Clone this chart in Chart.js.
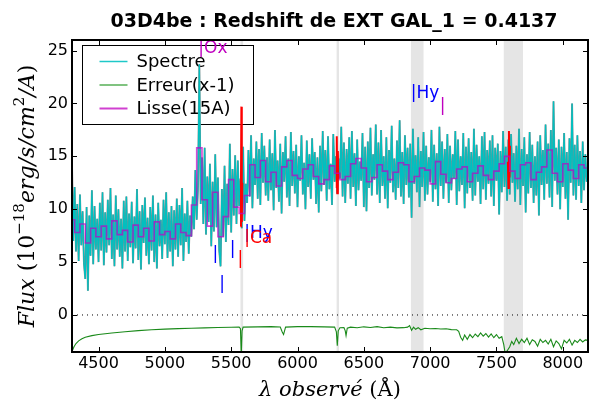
<!DOCTYPE html>
<html lang="fr">
<head>
<meta charset="UTF-8">
<title>03D4be : Redshift de EXT GAL_1</title>
<script src="https://cdn.jsdelivr.net/npm/chart.js"></script>
<style>
  body { margin: 0; background: #fff; }
  #wrap { width: 600px; height: 400px; }
</style>
</head>
<body>
<div id="wrap"><canvas id="spec" width="600" height="400"></canvas></div>
<script>
// spectre observe, un point tous les 10 A a partir de 4300 A
const specStart = 4300;
const specStep = 10;
const specFlux = [
  14.2, 7.0, 12.1, 6.0, 10.5, 5.1, 11.4, 6.6, 9.8, 4.9,    // 4300
  3.4, 10.2, 2.3, 9.4, 5.6, 11.8, 4.8, 10.3, 6.2, 9.1,     // 4400
  5.0, 10.6, 6.1, 11.6, 4.7, 9.7, 5.9, 10.9, 6.6, 12.0,    // 4500
  5.3, 9.5, 4.6, 11.3, 6.2, 10.0, 5.5, 9.1, 4.4, 10.8,     // 4600
  6.0, 11.2, 5.1, 9.6, 6.4, 10.7, 4.9, 9.3, 6.3, 11.9,     // 4700
  5.2, 9.8, 4.3, 10.4, 6.8, 11.1, 5.6, 9.2, 4.8, 10.2,     // 4800
  6.1, 11.3, 5.0, 9.5, 4.4, 10.6, 6.5, 9.0, 5.3, 10.9,     // 4900
  6.7, 11.6, 5.4, 9.7, 6.0, 10.3, 4.6, 9.9, 6.2, 11.0,     // 5000
  5.5, 10.4, 6.6, 12.0, 5.1, 9.6, 6.9, 10.8, 5.8, 9.4,     // 5100
  7.4, 11.2, 8.1, 13.7, 9.0, 12.2, 23.7, 10.5, 14.9, 8.6,  // 5200
  15.8, 7.6, 13.1, 8.8, 14.3, 6.5, 12.6, 7.9, 15.2, 8.3,   // 5300
  13.0, 6.1, 4.6, 11.9, 7.4, 14.1, 6.9, 12.4, 8.5, 16.2,   // 5400
  7.8, 13.8, 9.4, 15.1, 8.6, 14.6, 10.3, 12.9, 8.2, 15.9,  // 5500
  8.9, 12.4, 10.6, 15.6, 11.2, 17.0, 10.1, 14.8, 12.3, 16.4, // 5600
  11.0, 15.7, 10.4, 17.2, 12.5, 16.0, 11.3, 14.9, 10.8, 16.6, // 5700
  11.8, 15.3, 9.9, 17.5, 12.0, 14.6, 10.7, 16.2, 9.6, 15.4,  // 5800
  12.6, 16.9, 11.1, 14.8, 10.3, 17.3, 12.2, 15.5, 11.5, 16.1, // 5900
  10.2, 15.0, 12.7, 17.0, 11.4, 14.4, 10.0, 16.5, 12.1, 15.2, // 6000
  11.0, 16.7, 12.8, 15.4, 10.5, 14.9, 9.7, 16.0, 11.7, 17.4,  // 6100
  12.3, 15.6, 10.8, 16.9, 11.9, 14.3, 10.4, 17.1, 12.6, 15.0, // 6200
  11.5, 14.8, 12.9, 17.8, 11.2, 16.3, 10.6, 15.7, 12.4, 16.8, // 6300
  11.0, 17.4, 12.1, 15.3, 10.3, 16.6, 11.8, 14.5, 12.7, 17.2, // 6400
  10.2, 15.9, 9.8, 16.4, 12.0, 17.7, 11.3, 15.2, 12.8, 18.0,  // 6500
  11.4, 16.3, 10.6, 17.5, 12.2, 15.0, 11.0, 16.8, 10.1, 15.6, // 6600
  12.5, 17.9, 11.6, 14.8, 10.9, 16.5, 12.0, 18.4, 11.2, 15.4, // 6700
  10.5, 17.0, 12.3, 15.8, 11.1, 16.2, 9.2, 17.6, 12.4, 15.1,  // 6800
  11.6, 16.8, 10.2, 15.5, 12.1, 17.3, 10.8, 16.0, 11.4, 14.9, // 6900
  12.6, 17.5, 10.7, 16.1, 11.9, 15.3, 10.3, 17.8, 12.2, 16.4, // 7000
  11.0, 15.7, 12.5, 17.1, 10.6, 16.0, 11.8, 15.2, 12.9, 17.4, // 7100
  10.4, 16.6, 11.7, 15.0, 12.3, 17.2, 10.1, 15.9, 11.5, 16.7, // 7200
  12.0, 15.4, 10.8, 17.6, 11.3, 16.1, 12.6, 15.0, 10.5, 16.9, // 7300
  11.9, 17.3, 10.9, 15.6, 12.4, 16.5, 11.2, 17.0, 10.3, 15.8, // 7400
  12.7, 16.2, 9.5, 15.5, 11.6, 17.4, 12.1, 15.9, 10.8, 16.6,  // 7500
  11.4, 17.1, 12.5, 15.3, 10.7, 16.0, 11.9, 17.6, 10.4, 15.7, // 7600
  12.2, 16.8, 9.7, 15.2, 11.5, 17.3, 12.0, 16.1, 10.6, 15.0,  // 7700
  11.3, 16.4, 9.4, 17.0, 12.3, 15.6, 10.9, 18.0, 12.4, 16.2,  // 7800
  11.1, 17.5, 10.2, 20.2, 12.7, 15.8, 11.4, 16.6, 10.0, 15.9, // 7900
  12.1, 17.2, 11.0, 15.4, 9.0, 16.7, 12.5, 20.0, 11.3, 16.1,  // 8000
  10.9, 17.0, 12.2, 15.5, 10.6, 16.4, 11.8, 15.2, 12.6        // 8100
];

// spectre lisse (15A), un palier tous les 40 A a partir de 4300 A
const smoothStart = 4300;
const smoothStep = 40;
const smoothFlux = [
  9.0, 7.8, 8.6, 6.8, 8.2, 7.4, 8.4, 7.2, 8.9, 7.6,          // 4300
  8.0, 6.9, 8.5, 7.4, 8.2, 7.0, 8.8, 7.6, 7.9, 7.2,          // 4700
  8.6, 7.8, 7.5, 10.4, 15.8, 10.9, 8.4, 11.6, 7.4, 9.3,      // 5100
  12.8, 10.2, 9.6, 11.3, 14.2, 13.0, 14.6, 12.6, 13.5, 12.2, // 5500
  14.0, 14.6, 13.2, 12.9, 13.8, 14.2, 13.1, 12.4, 12.8, 14.1, // 5900
  13.4, 12.8, 13.1, 14.3, 14.8, 13.9, 12.6, 13.0, 14.2, 13.6, // 6300
  12.8, 13.5, 14.4, 14.2, 12.6, 13.1, 13.9, 13.7, 12.4, 14.5, // 6700
  13.3, 12.5, 12.9, 13.8, 14.0, 12.6, 13.4, 14.1, 13.2, 12.8, // 7100
  13.6, 14.3, 15.0, 13.6, 12.9, 14.2, 14.4, 12.8, 13.5, 14.0, // 7500
  15.6, 13.4, 12.6, 14.3, 13.7, 12.9, 14.2, 13.9              // 7900
];

// erreur (x-1)
const errLambda = [
  4300, 4315, 4330, 4350, 4375, 4400, 4450, 4500, 4600, 4700,
  4800, 4900, 5000, 5100, 5200, 5300, 5400, 5500, 5560, 5570,
  5576, 5582, 5590, 5700, 5800, 5870, 5885, 5895, 5910, 6000,
  6100, 6200, 6280, 6293, 6300, 6307, 6320, 6350, 6360, 6366,
  6375, 6400, 6450, 6500, 6550, 6600, 6650, 6700, 6750, 6800,
  6830, 6845, 6860, 6875, 6890, 6910, 6930, 6960, 7000, 7040,
  7080, 7120, 7160, 7200, 7215, 7230, 7245, 7260, 7280, 7300,
  7320, 7340, 7360, 7380, 7400, 7420, 7440, 7460, 7480, 7500,
  7520, 7540, 7555, 7565, 7580, 7600, 7615, 7630, 7650, 7670,
  7690, 7710, 7730, 7750, 7770, 7790, 7810, 7830, 7850, 7870,
  7890, 7910, 7930, 7950, 7970, 7990, 8010, 8030, 8050, 8070,
  8090, 8110, 8130, 8150, 8170, 8190
];
const errFlux = [
  -3.45, -3.0, -2.7, -2.45, -2.25, -2.1, -1.95, -1.85, -1.7, -1.58,
  -1.48, -1.4, -1.34, -1.29, -1.25, -1.22, -1.19, -1.16, -1.15, -1.3,
  -3.8, -1.5, -1.15, -1.12, -1.1, -1.14, -1.6, -1.85, -1.15, -1.1,
  -1.1, -1.12, -1.15, -1.6, -2.9, -1.5, -1.2, -1.18, -1.5, -1.95,
  -1.25, -1.15, -1.2, -1.12, -1.18, -1.1, -1.2, -1.15, -1.22, -1.2,
  -1.15, -1.0, -1.45, -1.15, -1.35, -1.2, -1.4, -1.25, -1.3, -1.28,
  -1.32, -1.3, -1.38, -1.4, -1.55, -2.1, -2.4, -1.9, -2.3, -1.85,
  -2.15, -1.8, -2.05, -1.7, -2.0, -1.75, -2.1, -1.8, -2.15, -1.85,
  -2.2, -2.05, -2.8, -3.6, -3.4, -3.0, -2.5, -2.8, -2.2, -2.7,
  -2.3, -2.6, -2.2, -2.8, -2.35, -2.5, -2.95, -2.3, -2.6, -2.4,
  -2.75, -2.3, -3.0, -2.45, -2.7, -3.2, -2.4, -2.65, -2.3, -2.85,
  -2.4, -2.6, -2.3, -2.55, -2.35, -2.4
];

// residus des raies du ciel (en rouge)
const skyLambda = [5570, 5574, 5577, 5580, 5584, null, 6292, 6296, 6300, 6304, 6308, null, 7586, 7590, 7594, 7598, 7602];
const skyFlux   = [8.4, 13.0, 19.7, 8.8, 12.5, null, 12.0, 16.9, 11.5, 15.5, 12.8, null, 14.5, 12.0, 17.4, 13.0, 16.0];

// zones masquees (telluriques / ciel)
const bandFrom = [5570, 6295, 6855, 7555];
const bandTo   = [5590, 6313, 6950, 7700];

// raies identifiees
const lineLambda = [5252, 5360, 5410, 5490, 5548, 5598, 5598, 6853, 7072];
const lineFlux   = [24.8, 5.3, 2.5, 5.8, 4.8, 7.3, 6.8, 20.5, 19.3];
const lineText   = ['|Ox', '|', '|', '|', '|', '|Hy', '|Ca', '|Hy', '|'];
const lineColor  = ['#bf00bf', '#0000ff', '#0000ff', '#0000ff', '#ff0000', '#0000ff', '#ff0000', '#0000ff', '#bf00bf'];

const xTicks = [4500, 5000, 5500, 6000, 6500, 7000, 7500, 8000];
const yTicks = [0, 5, 10, 15, 20, 25];
const xMin = 4300, xMax = 8190, yMin = -3.5, yMax = 26;

const specPts = specFlux.map((v, i) => ({ x: specStart + i * specStep, y: v }));
const smoothPts = smoothFlux.map((v, i) => ({ x: smoothStart + i * smoothStep, y: v }));
const errPts = errLambda.map((l, i) => ({ x: l, y: errFlux[i] }));
const skyPts = skyLambda.map((l, i) => ({ x: l, y: skyFlux[i] }));

const legendItems = [
  { text: 'Spectre', color: '#1ec8c8', width: 1.5 },
  { text: 'Erreur(x-1)', color: '#2a9a2a', width: 1.2 },
  { text: 'Lisse(15A)', color: '#d040d0', width: 2 }
];

function drawRich(ctx, parts, x, y, size, align) {
  // texte style mathtext : italique / droit / exposant
  const fam = '"DejaVu Serif"';
  const fontOf = p => (p.it ? 'italic ' : '') + (p.sup ? Math.round(size * 0.7) : size) + 'px ' + fam;
  let total = 0;
  parts.forEach(p => { ctx.font = fontOf(p); total += ctx.measureText(p.t).width; });
  let cx = align === 'center' ? x - total / 2 : x;
  parts.forEach(p => {
    ctx.font = fontOf(p);
    ctx.fillText(p.t, cx, p.sup ? y - size * 0.45 : y);
    cx += ctx.measureText(p.t).width;
  });
}

const decor = {
  id: 'decor',
  beforeDatasetsDraw(chart) {
    const { ctx, chartArea: a, scales: { x } } = chart;
    ctx.save();
    ctx.fillStyle = '#e5e5e5';
    bandFrom.forEach((b, i) => {
      const x0 = x.getPixelForValue(b), x1 = x.getPixelForValue(bandTo[i]);
      ctx.fillRect(x0, a.top, x1 - x0, a.bottom - a.top);
    });
    // legende
    const lx = a.left + 10.5, ly = a.top + 5.5, lw = 171, lh = 79;
    ctx.fillStyle = '#fff';
    ctx.fillRect(lx, ly, lw, lh);
    ctx.strokeStyle = '#000';
    ctx.lineWidth = 1;
    ctx.strokeRect(lx, ly, lw, lh);
    ctx.font = '18px "DejaVu Sans"';
    ctx.textBaseline = 'middle';
    legendItems.forEach((it, i) => {
      const yy = ly + 16 + i * 23.5;
      ctx.strokeStyle = it.color;
      ctx.lineWidth = it.width;
      ctx.beginPath();
      ctx.moveTo(lx + 17, yy);
      ctx.lineTo(lx + 45, yy);
      ctx.stroke();
      ctx.fillStyle = '#000';
      ctx.fillText(it.text, lx + 54, yy + 1);
    });
    ctx.restore();
  },
  afterDatasetsDraw(chart) {
    const { ctx, scales: { x, y } } = chart;
    ctx.save();
    ctx.font = '17px "DejaVu Sans"';
    ctx.textBaseline = 'alphabetic';
    lineText.forEach((t, i) => {
      ctx.fillStyle = lineColor[i];
      ctx.fillText(t, x.getPixelForValue(lineLambda[i]), y.getPixelForValue(lineFlux[i]));
    });
    ctx.restore();
  },
  afterDraw(chart) {
    const { ctx, chartArea: a, scales: { x, y } } = chart;
    ctx.save();
    ctx.strokeStyle = '#000';
    ctx.lineWidth = 1;
    ctx.beginPath();
    xTicks.forEach(v => {
      const px = Math.round(x.getPixelForValue(v)) + 0.5;
      ctx.moveTo(px, a.bottom); ctx.lineTo(px, a.bottom - 5);
      ctx.moveTo(px, a.top); ctx.lineTo(px, a.top + 5);
    });
    yTicks.forEach(v => {
      const py = Math.round(y.getPixelForValue(v)) + 0.5;
      ctx.moveTo(a.left, py); ctx.lineTo(a.left + 5, py);
      ctx.moveTo(a.right, py); ctx.lineTo(a.right - 5, py);
    });
    ctx.stroke();
    ctx.lineWidth = 2;
    ctx.strokeRect(a.left, a.top, a.right - a.left, a.bottom - a.top);

    ctx.fillStyle = '#000';
    ctx.textAlign = 'center';
    ctx.textBaseline = 'alphabetic';
    ctx.font = 'bold 19px "DejaVu Sans"';
    ctx.fillText('03D4be : Redshift de EXT GAL_1 = 0.4137', (a.left + a.right) / 2 + 4, 27);

    ctx.textAlign = 'left';
    drawRich(ctx, [
      { t: 'λ observé ', it: true },
      { t: '(Å)' }
    ], (a.left + a.right) / 2, 396, 21, 'center');

    ctx.translate(34, (a.top + a.bottom) / 2);
    ctx.rotate(-Math.PI / 2);
    drawRich(ctx, [
      { t: 'Flux ', it: true },
      { t: '(10' },
      { t: '−18', sup: true },
      { t: 'erg/s/cm', it: true },
      { t: '2', sup: true },
      { t: '/A', it: true },
      { t: ')' }
    ], 0, 0, 22, 'center');
    ctx.restore();
  }
};

new Chart(document.getElementById('spec'), {
  type: 'line',
  data: {
    datasets: [
      { data: specPts, borderColor: '#8a8a8a', borderWidth: 1.9, order: 6 },
      { data: specPts, borderColor: '#00c0c0', borderWidth: 1.3, order: 5 },
      { data: skyPts, borderColor: '#ff0000', borderWidth: 2, spanGaps: false, order: 4 },
      { data: smoothPts, borderColor: 'rgba(190,0,200,0.7)', borderWidth: 1.6, stepped: 'middle', order: 3 },
      { data: errPts, borderColor: '#1a8a1a', borderWidth: 1.1, order: 2 },
      { data: [{ x: xMin, y: 0 }, { x: xMax, y: 0 }], borderColor: '#000', borderWidth: 1, borderDash: [1, 4], order: 1 }
    ]
  },
  options: {
    responsive: false,
    animation: false,
    layout: { padding: { top: 40, right: 12, left: 0, bottom: 0 } },
    elements: { point: { radius: 0 }, line: { tension: 0 } },
    plugins: { legend: { display: false }, tooltip: { enabled: false }, title: { display: false } },
    scales: {
      x: {
        type: 'linear', min: xMin, max: xMax,
        afterBuildTicks: s => { s.ticks = xTicks.map(v => ({ value: v })); },
        afterFit: s => { s.height = 48; },
        grid: { display: false, drawTicks: false },
        border: { display: false },
        ticks: { color: '#000', padding: 2, maxRotation: 0, callback: v => String(v), font: { family: 'DejaVu Sans', size: 16 } }
      },
      y: {
        type: 'linear', min: yMin, max: yMax,
        afterBuildTicks: s => { s.ticks = yTicks.map(v => ({ value: v })); },
        afterFit: s => { s.width = 72; },
        grid: { display: false, drawTicks: false },
        border: { display: false },
        ticks: { color: '#000', padding: 4, callback: v => String(v), font: { family: 'DejaVu Sans', size: 16 } }
      }
    }
  },
  plugins: [decor]
});
</script>
</body>
</html>
